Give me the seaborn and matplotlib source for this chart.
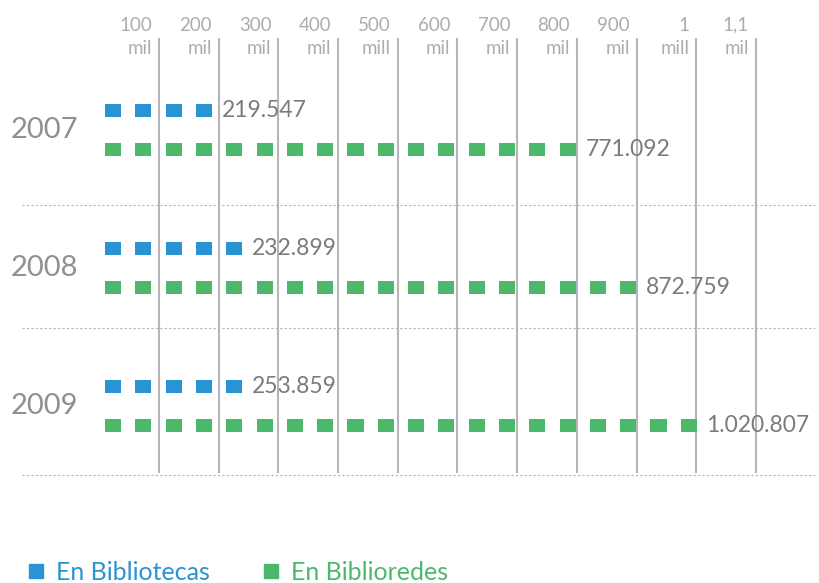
import numpy as np
import pandas as pd
import matplotlib
matplotlib.use('Agg')
import matplotlib.pyplot as plt
from matplotlib.lines import Line2D
import seaborn as sns

# ── Data ──────────────────────────────────────────────────────
YEARS       = ["2007", "2008", "2009"]
BIBLIOTECAS = [219547, 232899, 253859]
BIBLIOREDES = [771092, 872759, 1020807]
VAL_LABELS_BIB = ["219.547", "232.899", "253.859"]
VAL_LABELS_RED = ["771.092", "872.759", "1.020.807"]
GRID_TICKS  = [100000, 200000, 300000, 400000, 500000, 600000,
               700000, 800000, 900000, 1000000, 1100000]
GRID_LABELS = ["100\nmil", "200\nmil", "300\nmil", "400\nmil", "500\nmill",
               "600\nmil", "700\nmil", "800\nmil", "900\nmil", "1\nmill", "1,1\nmil"]
SERIES      = ["En Bibliotecas", "En Biblioredes"]
STEP = 50000          # one square ~ 50 mil

# ── Style ─────────────────────────────────────────────────────
sns.set_theme(style="white")
plt.rcParams['font.family'] = ['Lato', 'DejaVu Sans']
BLUE, GREEN = "#2a93d4", "#4cb86c"
GRAY_GRID = "#b6b6ba"

# layout: pixel mapping of the original infographic
PX0, PXS = 99.3, 0.000597        # pixel of value 0, pixels per unit
ROW0, ROWH = 130, 138            # pixel of first row centre, row pitch
L0, SQW = 9700, 26800            # first square left edge / square width (data units)
PITCH = 30.3 / PXS               # square spacing (data units)


def n_squares(v):
    return int(np.ceil(v / STEP - 0.42))


fig = plt.figure(figsize=(8.2, 5.83), dpi=100)
ax = fig.add_axes([0, 0, 1, 1])

# build square positions
rows = []
for i, yr in enumerate(YEARS):
    for serie, vals, off in ((SERIES[0], BIBLIOTECAS, -0.142), (SERIES[1], BIBLIOREDES, 0.142)):
        for k in range(n_squares(vals[i])):
            rows.append({"x": L0 + SQW / 2 + k * PITCH, "y": i + off, "serie": serie})
df = pd.DataFrame(rows)

rect = [(-1, -0.8), (1, -0.8), (1, 0.8), (-1, 0.8), (-1, -0.8)]
sns.scatterplot(data=df, x="x", y="y", hue="serie", palette=[BLUE, GREEN],
                marker=rect, s=135, linewidth=0, legend=False, ax=ax, zorder=3)

# vertical grid lines + top labels
y_top, y_bot = (38 - ROW0) / ROWH, (473 - ROW0) / ROWH
ax.vlines(GRID_TICKS, y_top, y_bot, color=GRAY_GRID, lw=1.5, zorder=2)
for t, lab in zip(GRID_TICKS, GRID_LABELS):
    ax.annotate(lab, (t, (57 - ROW0) / ROWH), xytext=(-5, 0), textcoords='offset points',
                ha='right', va='bottom', multialignment='right', fontsize=13.5,
                color="#acacb1", linespacing=1.45)

# separators
for yp in (205, 328, 475):
    ax.plot([(22 - PX0) / PXS, (815 - PX0) / PXS], [(yp - ROW0) / ROWH] * 2,
            ls=(0, (2, 2)), lw=0.8, color="#b5b5b5", zorder=1)

# year labels and value labels
for i, yr in enumerate(YEARS):
    ax.annotate(yr, ((11 - PX0) / PXS, i), ha='left', va='center', fontsize=21,
                color="#909090")
    for vals, labs, off in ((BIBLIOTECAS, VAL_LABELS_BIB, -0.142), (BIBLIOREDES, VAL_LABELS_RED, 0.142)):
        x_end = L0 + (n_squares(vals[i]) - 1) * PITCH + SQW
        ax.annotate(labs[i], (x_end, i + off), xytext=(7, 0), textcoords='offset points',
                    ha='left', va='center', fontsize=16.5, color="#7b7b7b", zorder=4)

ax.set_xlim(-PX0 / PXS, (820 - PX0) / PXS)
ax.set_ylim((583 - ROW0) / ROWH, -ROW0 / ROWH)
ax.axis('off')

# legend
handles = [Line2D([], [], marker='s', ls='', color=c, markersize=9.5) for c in (BLUE, GREEN)]
fig.legend(handles, SERIES, loc='lower left', bbox_to_anchor=(0.003, -0.04), ncol=2,
           frameon=False, fontsize=18, labelcolor=[BLUE, GREEN], handletextpad=0.35,
           columnspacing=2.0, handlelength=0.9)

plt.savefig("out.png", dpi=100)
plt.close()
